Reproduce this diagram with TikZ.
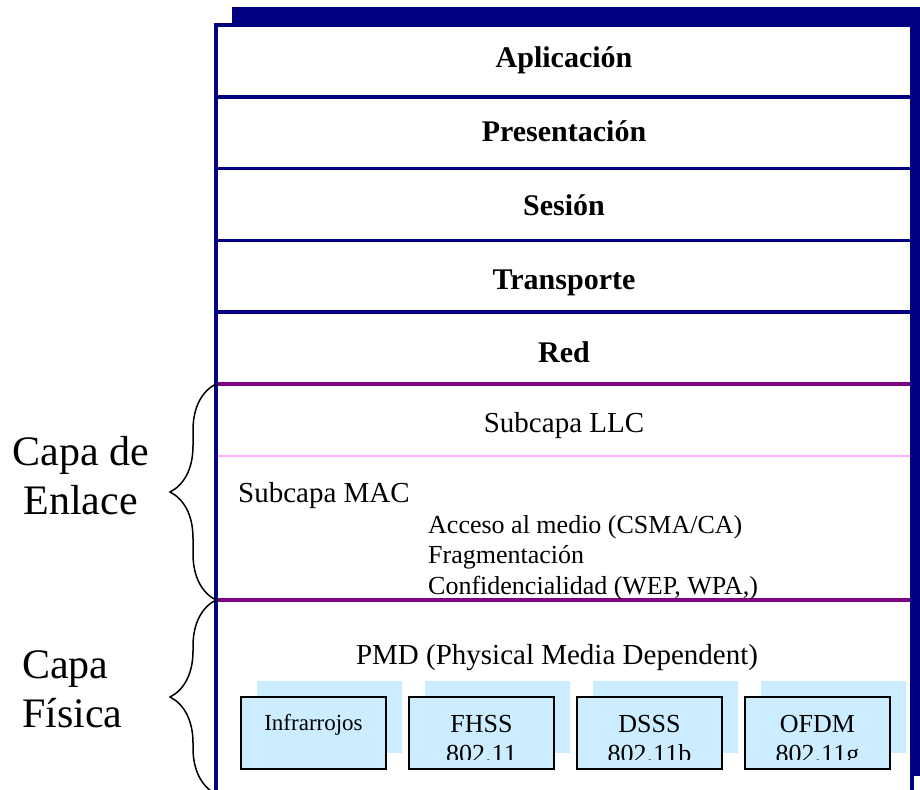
\documentclass[tikz,border=0pt]{standalone}
\usepackage{fontspec}
\setmainfont{Liberation Serif}
\usetikzlibrary{positioning, decorations.pathreplacing, shadows}
\definecolor{navy}{RGB}{0,0,128}
\definecolor{purpura}{RGB}{128,0,128}
\definecolor{lila}{RGB}{255,179,255}
\definecolor{celeste}{RGB}{204,236,255}
\newcommand{\fsz}[2]{\fontsize{#1}{#2}\selectfont}
\tikzstyle{layer} = [draw=navy, line width=3.5pt, outer sep=0pt,
   minimum width=696pt, minimum height=71.8pt,
   text height=30pt, font=\bfseries\fsz{30}{36}]
\tikzstyle{sublayer} = [outer sep=0pt, inner sep=0pt, minimum width=696pt]
\tikzstyle{divider} = [purpura, line width=4pt, shorten <=1.75pt, shorten >=1.75pt]
\tikzstyle{thindivider} = [lila, line width=1.5pt, shorten <=1.75pt, shorten >=1.75pt]
\tikzstyle{pmdbox} = [draw=black, line width=2pt, fill=celeste, outer sep=0pt,
   minimum width=145pt, minimum height=72pt,
   drop shadow={fill=celeste, opacity=1, shadow xshift=16pt, shadow yshift=16pt}]
\tikzstyle{bracket} = [decorate, decoration={brace, amplitude=46pt}, line width=1.5pt]
\tikzstyle{biglabel} = [inner sep=0pt, font=\fsz{42}{49}]

\begin{document}
\begin{tikzpicture}[x=1pt, y=-1pt]
  \useasboundingbox (0,0) rectangle (920,789);
  \node[draw=navy, line width=3.5pt, fill=white, outer sep=0pt, anchor=north west,
        minimum width=696pt, minimum height=769pt,
        drop shadow={fill=navy, opacity=1, shadow xshift=16pt, shadow yshift=18pt}]
        (frame) at (216,25) {};
  \node[layer, text depth=17pt, anchor=north west] (apl) at (frame.north west) {Aplicación};
  \node[layer, text depth=13pt, below=0pt of apl] (pres) {Presentación};
  \node[layer, text depth=9pt, below=0pt of pres] (ses) {Sesión};
  \node[layer, text depth=3pt, below=0pt of ses] (trans) {Transporte};
  \node[layer, text depth=1pt, below=0pt of trans] (red) {Red};
  \node[sublayer, minimum height=72pt, below=0pt of red] (llc) {};
  \node[sublayer, minimum height=144pt, below=0pt of llc] (mac) {};
  \node[sublayer, minimum height=194pt, below=0pt of mac] (phys) {};
  \draw[divider] (llc.north west) -- (llc.north east);
  \draw[thindivider] (mac.north west) -- (mac.north east);
  \draw[divider] (phys.north west) -- (phys.north east);
  \node[anchor=base, font=\fsz{29}{34}] (llctext) at (564,432) {Subcapa LLC};
  \node[anchor=base west, inner sep=0pt, font=\fsz{29}{34}] (mactitle) at (238,502) {Subcapa MAC};
  \node[anchor=north west, inner sep=0pt, align=left, font=\fsz{26}{30.5}] (macitems) at (428,515)
       {Acceso al medio (CSMA/CA)\\Fragmentación\\Confidencialidad (WEP, WPA,)};
  \node[anchor=base, font=\fsz{29}{34}] (pmdtext) at (557,664) {PMD (Physical Media Dependent)};
  \node[pmdbox] (irda) at (313.5,733) {};
  \node[pmdbox, right=23pt of irda] (fhss) {};
  \node[pmdbox, right=23pt of fhss] (dsss) {};
  \node[pmdbox, right=23pt of dsss] (ofdm) {};
  \node[anchor=base, font=\fsz{23}{27}] (irda-name) at ([yshift=3pt]irda.center) {Infrarrojos};
  \begin{scope}
    \clip ([yshift=10pt]fhss.south west) rectangle (ofdm.north east);
    \foreach \b/\t/\s in {fhss/FHSS/802.11, dsss/DSSS/802.11b, ofdm/OFDM/802.11g} {
      \node[anchor=base, font=\fsz{26}{30}] (\b-name) at ([yshift=1pt]\b.center) {\t};
      \node[anchor=base, font=\fsz{26}{30}] (\b-std) at ([yshift=-29pt]\b.center) {\s};
    }
  \end{scope}
  \draw[bracket] (mac.south west) -- (llc.north west);
  \draw[bracket] (phys.south west) -- (phys.north west);
  \node[biglabel, align=center, anchor=east] (enlace) at (149,476) {Capa de\\Enlace};
  \node[biglabel, align=left, anchor=west] (fisica) at (22,689) {Capa\\Física};
\end{tikzpicture}
\end{document}
